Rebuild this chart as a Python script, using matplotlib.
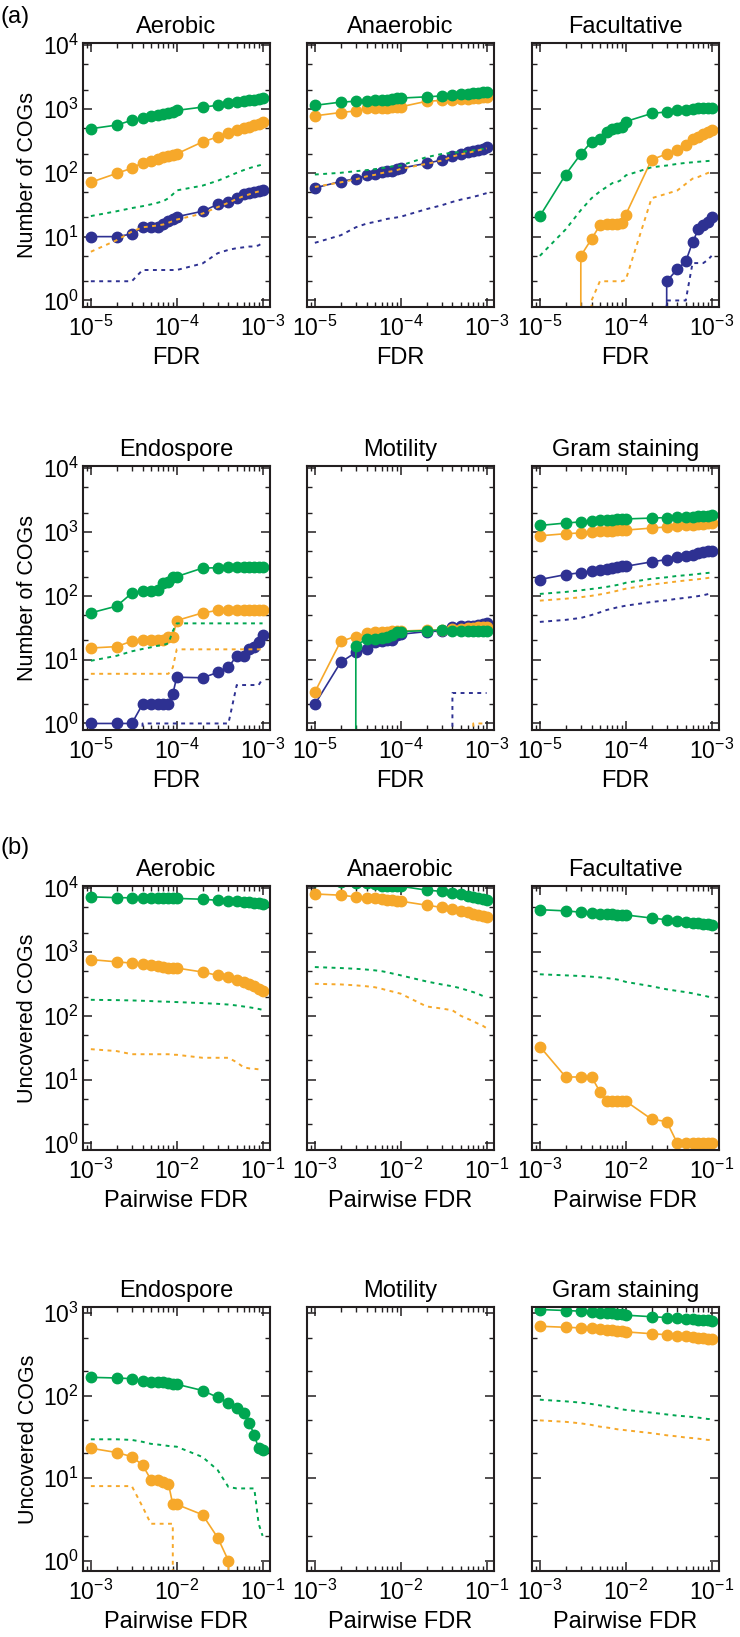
import matplotlib
matplotlib.use('Agg')
import matplotlib.pyplot as plt
from matplotlib.ticker import LogLocator, NullFormatter

plt.rcParams['font.family'] = ['Liberation Sans', 'DejaVu Sans']
plt.rcParams['mathtext.default'] = 'regular'

GREEN = '#00a651'
ORANGE = '#f6a82a'
BLUE = '#2e3192'

# x grids (FDR thresholds)
fdr_a = [1e-5, 2e-5, 3e-5, 4e-5, 5e-5, 6e-5, 7e-5, 8e-5, 9e-5,
         1e-4, 2e-4, 3e-4, 4e-4, 5e-4, 6e-4, 7e-4, 8e-4, 9e-4, 1e-3]
fdr_b = [1e-3, 2e-3, 3e-3, 4e-3, 5e-3, 6e-3, 7e-3, 8e-3, 9e-3,
         1e-2, 2e-2, 3e-2, 4e-2, 5e-2, 6e-2, 7e-2, 8e-2, 9e-2, 1e-1]

traits = ['Aerobic', 'Anaerobic', 'Facultative', 'Endospore', 'Motility', 'Gram staining']

# ---- (a) Number of COGs ----
aer_green = [490, 560, 665, 735, 780, 810, 840, 870, 900, 950, 1070, 1140, 1230, 1280, 1330, 1370, 1400, 1440, 1480]
aer_orange = [71, 98, 118, 144, 155, 165, 175, 185, 190, 198, 305, 365, 420, 460, 500, 530, 560, 590, 620]
aer_blue = [10, 10, 11, 14, 14, 14, 16, 17.7, 19, 20.5, 25, 32, 35, 41, 46, 48, 50, 52, 54]
aer_green_d = [21, 25, 28, 30, 32, 34, 36, 40, 46, 53, 63, 75, 88, 100, 110, 118, 125, 130, 135]
aer_orange_d = [5.8, 8.8, 12, 14, 14.5, 15, 15.5, 16.5, 17.5, 18.5, 23, 29, 34, 39, 43, 46, 49, 51, 53]
aer_blue_d = [2, 2, 2, 3, 3, 3, 3, 3, 3, 3, 3.8, 5.5, 6.2, 6.6, 6.8, 7, 7, 7.3, 8]

ana_green = [1140, 1280, 1320, 1350, 1360, 1380, 1400, 1440, 1460, 1480, 1550, 1600, 1650, 1700, 1730, 1770, 1800, 1830, 1860]
ana_orange = [780, 880, 930, 1020, 1020, 1030, 1040, 1060, 1070, 1080, 1320, 1360, 1400, 1430, 1450, 1480, 1500, 1520, 1550]
ana_blue = [58, 73, 81, 91, 96, 102, 106, 108, 113, 118, 141, 158, 186, 200, 210, 220, 230, 240, 250]
ana_green_d = [94, 100, 106, 110, 114, 118, 122, 126, 128, 130, 176, 197, 205, 212, 218, 224, 230, 236, 240]
ana_orange_d = [60, 71, 79, 88, 93, 99, 103, 106, 110, 115, 138, 155, 180, 195, 205, 215, 225, 233, 242]
ana_blue_d = [8, 10.5, 14, 16, 17, 18, 19, 19.5, 20, 20.5, 27, 31, 35, 38, 40, 42, 44, 46, 48]

fac_green = [21, 94, 197, 307, 338, 428, 484, 500, 525, 635, 850, 900, 955, 980, 1000, 1030, 1030, 1030, 1030]
fac_orange = [0, 0, 5, 9.2, 15, 15.8, 16, 16, 16.5, 22, 160, 198, 228, 275, 340, 366, 405, 430, 465]
fac_blue = [0, 0, 0, 0, 0, 0, 0, 0, 0, 0, 0, 2, 3.1, 4.1, 8.1, 13, 15, 17, 20]
fac_green_d = [5, 13, 26, 40, 51, 60, 69, 72, 78, 91, 122, 130, 138, 143, 146, 149, 151, 153, 155]
fac_orange_d = [0, 0, 0, 1, 2, 2, 2, 2, 2, 2.1, 40, 47, 53, 67, 81, 86, 93, 99, 105]
fac_blue_d = [0, 0, 0, 0, 0, 0, 0, 0, 0, 0, 0, 1, 1, 1, 3.85, 3.85, 3.85, 4.3, 5]

end_green = [54, 69, 110, 121, 121, 124, 158, 164, 196, 200, 272, 275, 280, 280, 280, 280, 280, 280, 280]
end_orange = [15.2, 16, 19.5, 20.4, 20.4, 20.4, 20.4, 22.4, 22.4, 41, 54, 59, 60, 60, 60, 60, 60, 60, 60]
end_blue = [1, 1, 1, 2, 2, 2, 2, 2, 2.9, 5.3, 5.2, 6.3, 7.6, 11.5, 11.5, 14.7, 15.6, 18.7, 24]
end_green_d = [9.6, 11.5, 13.5, 14.7, 15.6, 16.5, 17, 18, 28, 37, 37, 37, 37, 37, 37, 37, 37, 37, 37]
end_orange_d = [6, 6, 6, 6, 6, 6, 6, 6, 7.5, 14.5, 14.5, 14.5, 14.5, 14.5, 14.5, 14.5, 14.5, 14.5, 14.5]
end_blue_d = [0, 0, 0, 1, 1, 1, 1, 1, 1, 1, 1, 1, 1, 4, 4, 4, 4, 4, 5]

mot_green = [0, 0, 16.6, 21, 21, 22, 22.5, 24, 27, 27.5, 28.5, 29, 28, 28, 28, 28, 28, 28, 28]
mot_orange = [3.1, 19.4, 23, 26, 27, 27, 27, 28, 28, 28, 29, 29, 30, 30, 31, 31, 32, 32, 33]
mot_blue = [2, 9.1, 13, 14.7, 18.7, 19.4, 20, 20, 24, 25, 27.5, 28, 33, 34, 34, 34, 35, 36, 37]
mot_orange_d = [0, 0, 0, 0, 0, 0, 0, 0, 0, 0, 0, 0, 0, 0, 0, 1, 1, 1, 1]
mot_blue_d = [0, 0, 0, 0, 0, 0, 0, 0, 0, 0, 0, 0, 3, 3, 3, 3, 3, 3, 3]

gram_green = [1265, 1380, 1440, 1470, 1520, 1540, 1560, 1580, 1590, 1600, 1650, 1680, 1700, 1720, 1740, 1760, 1780, 1800, 1820]
gram_orange = [870, 940, 965, 1000, 1020, 1040, 1050, 1060, 1065, 1070, 1150, 1200, 1240, 1270, 1300, 1320, 1350, 1380, 1400]
gram_blue = [180, 215, 230, 245, 255, 265, 275, 285, 288, 290, 340, 370, 400, 420, 440, 460, 480, 495, 510]
gram_green_d = [107, 115, 122, 128, 133, 138, 143, 148, 153, 160, 185, 195, 205, 210, 215, 220, 225, 228, 232]
gram_orange_d = [84, 90, 95, 100, 105, 110, 115, 120, 125, 129, 150, 160, 168, 174, 178, 182, 186, 190, 195]
gram_blue_d = [39, 42, 45, 50, 55, 60, 63, 66, 68, 70, 80, 85, 90, 93, 96, 99, 102, 106, 110]

# ---- (b) Uncovered COGs ----
aer_b_green = [7300, 7100, 7050, 7000, 6950, 6950, 6900, 6900, 6900, 6900, 6700, 6450, 6300, 6200, 6100, 6000, 5900, 5800, 5700]
aer_b_orange = [760, 700, 670, 640, 620, 600, 580, 570, 565, 560, 485, 430, 405, 360, 340, 310, 290, 265, 245]
aer_b_green_d = [178, 176, 174, 172, 170, 168, 167, 166, 165, 164, 158, 154, 150, 145, 140, 136, 132, 128, 124]
aer_b_orange_d = [30, 28, 25, 25, 25, 25, 25, 25, 24.5, 24.5, 22, 22, 22, 18.7, 15.6, 15, 14.8, 14.5, 14.2]

ana_b_green = [12800, 12500, 12200, 11900, 11500, 10900, 10900, 10900, 10800, 10700, 9300, 8900, 8400, 8000, 7600, 7200, 6900, 6700, 6450]
ana_b_orange = [8100, 7750, 7300, 7100, 6900, 6750, 6600, 6450, 6350, 6250, 5400, 5000, 4700, 4400, 4200, 4000, 3850, 3700, 3550]
ana_b_green_d = [580, 560, 545, 530, 515, 500, 480, 460, 445, 430, 345, 310, 290, 270, 250, 235, 220, 205, 192]
ana_b_orange_d = [317, 310, 300, 290, 280, 265, 250, 240, 230, 222, 140, 130, 122, 100, 90, 82, 75, 70, 64]

fac_b_green = [4600, 4400, 4200, 4100, 4000, 3950, 3900, 3850, 3800, 3800, 3400, 3200, 3050, 2950, 2850, 2800, 2750, 2700, 2600]
fac_b_orange = [33, 11, 11, 11, 6.5, 4.6, 4.6, 4.6, 4.6, 4.6, 2.4, 2.2, 1, 1, 1, 1, 1, 1, 1]
fac_b_green_d = [447, 430, 420, 410, 400, 390, 380, 370, 355, 340, 290, 260, 245, 235, 225, 215, 208, 200, 195]

end_b_green = [166, 163, 160, 150, 144, 144, 144, 141, 139, 137, 115, 95, 81, 70, 61, 47, 33, 23, 22]
end_b_orange = [23, 20.4, 18.2, 14.4, 9.6, 9.6, 9, 8.6, 4.8, 4.8, 3.6, 1.9, 1, 0, 0, 0, 0, 0, 0]
end_b_green_d = [29.5, 29.5, 29, 27.5, 26, 25.5, 25, 24.5, 24.2, 24, 18, 12.5, 7.8, 7.5, 7.5, 7.5, 7.5, 2.8, 2]
end_b_orange_d = [8, 8, 8, 4.5, 2.8, 2.8, 2.8, 2.8, 2.8, 0, 0, 0, 0, 0, 0, 0, 0, 0, 0]

gram_b_green = [1100, 1070, 1050, 1030, 1010, 1000, 990, 975, 960, 940, 900, 880, 860, 850, 840, 830, 820, 810, 800]
gram_b_orange = [690, 670, 660, 650, 640, 625, 615, 605, 598, 590, 560, 545, 530, 520, 510, 500, 495, 488, 480]
gram_b_green_d = [89, 85, 82, 79, 76, 74, 72, 70, 68, 67, 62, 59, 57, 56, 55, 54, 53, 52, 52]
gram_b_orange_d = [50, 48, 46, 44, 42, 41, 40, 39, 38.5, 38, 35, 33, 32, 31, 30.5, 30, 29.5, 29, 29]

# solid series (blue, orange, green) and dashed series per panel
panels_a = [
    ([(aer_blue, BLUE), (aer_orange, ORANGE), (aer_green, GREEN)],
     [(aer_green_d, GREEN), (aer_orange_d, ORANGE), (aer_blue_d, BLUE)]),
    ([(ana_blue, BLUE), (ana_orange, ORANGE), (ana_green, GREEN)],
     [(ana_green_d, GREEN), (ana_orange_d, ORANGE), (ana_blue_d, BLUE)]),
    ([(fac_blue, BLUE), (fac_orange, ORANGE), (fac_green, GREEN)],
     [(fac_green_d, GREEN), (fac_orange_d, ORANGE), (fac_blue_d, BLUE)]),
    ([(end_blue, BLUE), (end_orange, ORANGE), (end_green, GREEN)],
     [(end_green_d, GREEN), (end_orange_d, ORANGE), (end_blue_d, BLUE)]),
    ([(mot_blue, BLUE), (mot_orange, ORANGE), (mot_green, GREEN)],
     [(mot_orange_d, ORANGE), (mot_blue_d, BLUE)]),
    ([(gram_blue, BLUE), (gram_orange, ORANGE), (gram_green, GREEN)],
     [(gram_green_d, GREEN), (gram_orange_d, ORANGE), (gram_blue_d, BLUE)]),
]
panels_b = [
    ([(aer_b_orange, ORANGE), (aer_b_green, GREEN)],
     [(aer_b_green_d, GREEN), (aer_b_orange_d, ORANGE)]),
    ([(ana_b_orange, ORANGE), (ana_b_green, GREEN)],
     [(ana_b_green_d, GREEN), (ana_b_orange_d, ORANGE)]),
    ([(fac_b_orange, ORANGE), (fac_b_green, GREEN)],
     [(fac_b_green_d, GREEN)]),
    ([(end_b_orange, ORANGE), (end_b_green, GREEN)],
     [(end_b_green_d, GREEN), (end_b_orange_d, ORANGE)]),
    ([], []),
    ([(gram_b_orange, ORANGE), (gram_b_green, GREEN)],
     [(gram_b_green_d, GREEN), (gram_b_orange_d, ORANGE)]),
]

W, H = 740, 1637
fig = plt.figure(figsize=(W / 100, H / 100), dpi=100)

col_x = [83, 307, 532]
row_top = [43, 466, 886, 1307]
aw, ah = 187, 264


def make_axes(col, row):
    return fig.add_axes([col_x[col] / W, 1 - (row_top[row] + ah) / H, aw / W, ah / H])


def draw(ax, x, solids, dashes, xlim, ylim, title, xlabel, ylabel, show_y):
    ax.set_xscale('log')
    ax.set_yscale('log')
    for vals, c in solids:
        ax.plot(x, vals, '-', color=c, lw=1.2, marker='o', ms=7.5, mec=c, mfc=c)
    for vals, c in dashes:
        ax.plot(x, vals, color=c, lw=1.4, ls=(0, (2.0, 2.3)))
    ax.set_xlim(*xlim)
    ax.set_ylim(*ylim)
    ax.xaxis.set_major_locator(LogLocator(base=10, numticks=10))
    ax.xaxis.set_minor_locator(LogLocator(base=10, subs=range(2, 10), numticks=20))
    ax.xaxis.set_minor_formatter(NullFormatter())
    ax.yaxis.set_major_locator(LogLocator(base=10, numticks=10))
    ax.yaxis.set_minor_locator(LogLocator(base=10, subs=(2, 5), numticks=20))
    ax.yaxis.set_minor_formatter(NullFormatter())
    ax.tick_params(which='both', direction='in', top=True, right=True,
                   labelsize=16.5, color='#231f20')
    ax.tick_params(which='major', length=6.5, width=1.1)
    ax.tick_params(which='minor', length=3.5, width=1)
    ax.tick_params(axis='x', pad=6)
    ax.tick_params(axis='y', pad=3, labelleft=show_y)
    for s in ax.spines.values():
        s.set_linewidth(1.5)
        s.set_color('#231f20')
    ax.set_title(title, fontsize=17, pad=7)
    ax.set_xlabel(xlabel, fontsize=17, labelpad=5)
    if show_y:
        ax.set_ylabel(ylabel, fontsize=15.5, labelpad=3)


for i, (solids, dashes) in enumerate(panels_a):
    r, c = divmod(i, 3)
    ax = make_axes(c, r)
    draw(ax, fdr_a, solids, dashes, (8.1e-6, 1.22e-3), (0.79, 1.08e4),
         traits[i], 'FDR', 'Number of COGs', c == 0)

for i, (solids, dashes) in enumerate(panels_b):
    r, c = divmod(i, 3)
    ylim = (0.79, 1.08e4) if r == 0 else (0.75, 1180)
    ax = make_axes(c, r + 2)
    draw(ax, fdr_b, solids, dashes, (8.1e-4, 0.122), ylim,
         traits[i], 'Pairwise FDR', 'Uncovered COGs', c == 0)

fig.text(0.0, 1 - 17 / H, '(a)', fontsize=17, va='center', ha='left')
fig.text(0.0, 1 - 848 / H, '(b)', fontsize=17, va='center', ha='left')

fig.savefig('out.png', dpi=100)
